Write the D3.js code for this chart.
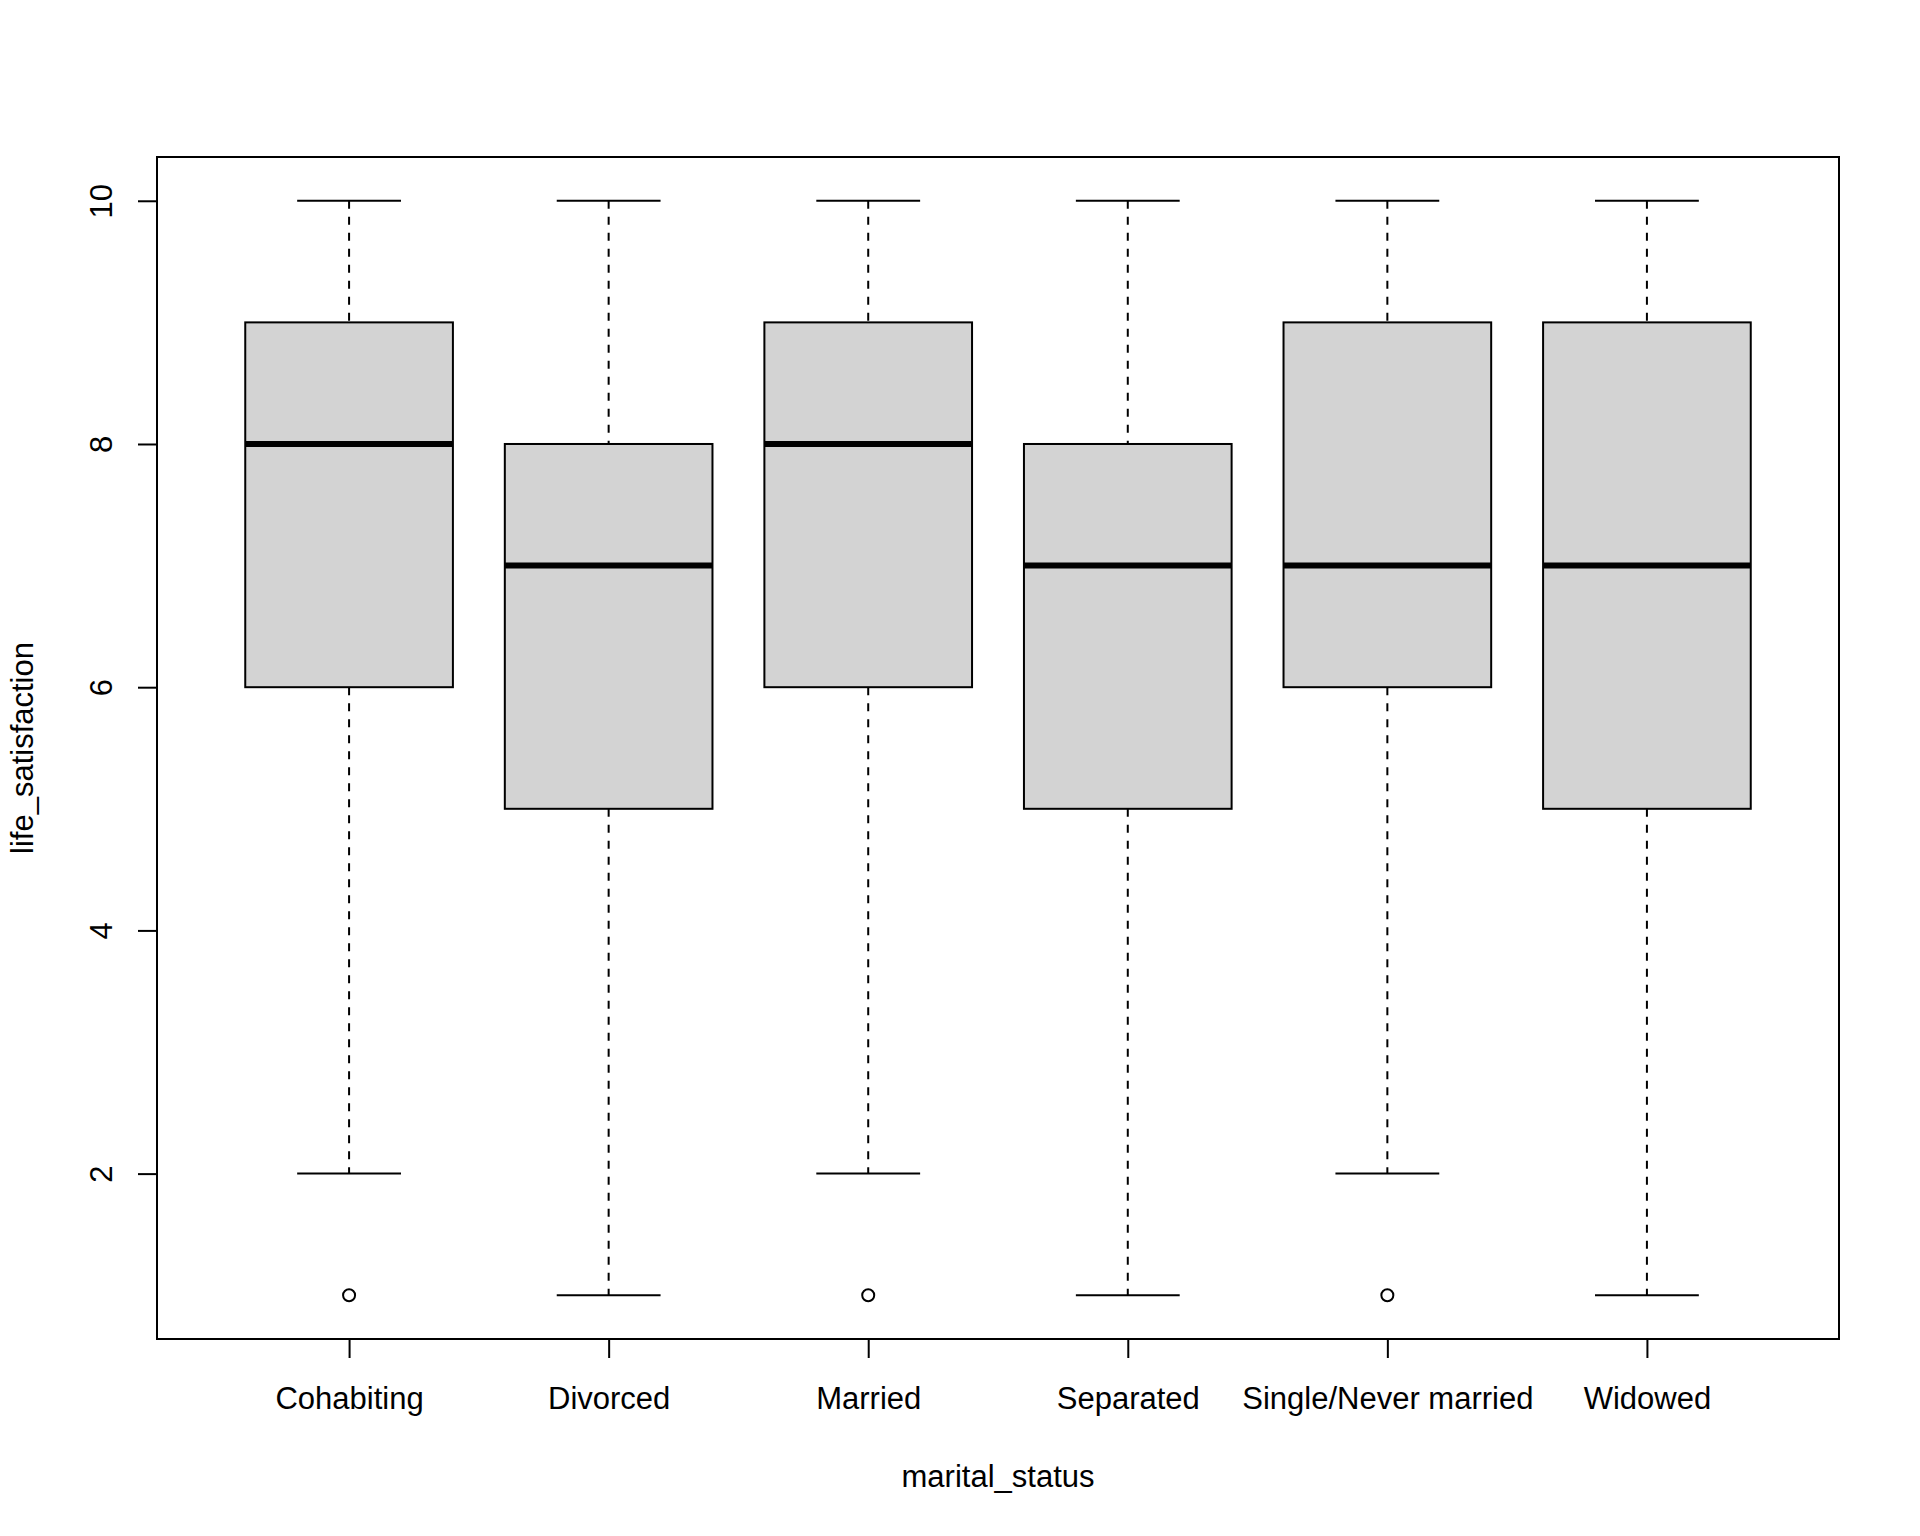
<!DOCTYPE html>
<html>
<head>
<meta charset="utf-8">
<script src="https://cdn.jsdelivr.net/npm/d3@7"></script>
<style>
  body { margin: 0; background: #fff; }
  text { font-family: "Liberation Sans", Arial, sans-serif; fill: #000; }
</style>
</head>
<body>
<div class="container"></div>
<script>
// boxplot stats
var categories = ['Cohabiting', 'Divorced', 'Married', 'Separated', 'Single/Never married', 'Widowed'];
var lowWhisker = [2, 1, 2, 1, 2, 1];
var q1 = [6, 5, 6, 5, 6, 5];
var median = [8, 7, 8, 7, 7, 7];
var q3 = [9, 8, 9, 8, 9, 9];
var highWhisker = [10, 10, 10, 10, 10, 10];
var outliers = [[1], [], [1], [], [1], []];
var yTicks = [2, 4, 6, 8, 10];

var W = 1920, H = 1536;
// plot region (window.top is reserved, so prefix the names)
var pLeft = 157, pRight = 1839, pTop = 157, pBottom = 1339;
var fs = 31;

var svg = d3.select('.container')
    .append('svg')
        .attr('width', W)
        .attr('height', H);

// R pads axes 4% past the data range
var x = d3.scaleLinear().domain([0.26, 6.74]).range([pLeft, pRight]);
var y = d3.scaleLinear().domain([0.64, 10.36]).range([pBottom, pTop]);

var rows = categories.map(function(c, i) {
    return {i: i + 1, name: c, lo: lowWhisker[i], q1: q1[i], med: median[i],
            q3: q3[i], hi: highWhisker[i], out: outliers[i]};
});

var g = svg.append('g');
var box = g.selectAll('g.box').data(rows).enter().append('g').attr('class', 'box');

// dashed whiskers
box.append('line')
    .attr('x1', function(d) { return x(d.i); })
    .attr('x2', function(d) { return x(d.i); })
    .attr('y1', function(d) { return y(d.hi); })
    .attr('y2', function(d) { return y(d.q3); })
    .style('stroke', '#000').style('stroke-width', 2).style('stroke-dasharray', '8,8');
box.append('line')
    .attr('x1', function(d) { return x(d.i); })
    .attr('x2', function(d) { return x(d.i); })
    .attr('y1', function(d) { return y(d.q1); })
    .attr('y2', function(d) { return y(d.lo); })
    .style('stroke', '#000').style('stroke-width', 2).style('stroke-dasharray', '8,8');

// staples
['hi', 'lo'].forEach(function(k) {
    box.append('line')
        .attr('x1', function(d) { return x(d.i - 0.2); })
        .attr('x2', function(d) { return x(d.i + 0.2); })
        .attr('y1', function(d) { return y(d[k]); })
        .attr('y2', function(d) { return y(d[k]); })
        .style('stroke', '#000').style('stroke-width', 2);
});

box.append('rect')
    .attr('x', function(d) { return x(d.i - 0.4); })
    .attr('width', function(d) { return x(d.i + 0.4) - x(d.i - 0.4); })
    .attr('y', function(d) { return y(d.q3); })
    .attr('height', function(d) { return y(d.q1) - y(d.q3); })
    .style('fill', '#d3d3d3').style('stroke', '#000').style('stroke-width', 2);

box.append('line')
    .attr('x1', function(d) { return x(d.i - 0.4); })
    .attr('x2', function(d) { return x(d.i + 0.4); })
    .attr('y1', function(d) { return y(d.med); })
    .attr('y2', function(d) { return y(d.med); })
    .style('stroke', '#000').style('stroke-width', 6);

box.selectAll('circle')
    .data(function(d) { return d.out.map(function(v) { return {i: d.i, v: v}; }); })
    .enter().append('circle')
        .attr('cx', function(d) { return x(d.i); })
        .attr('cy', function(d) { return y(d.v); })
        .attr('r', 6)
        .style('fill', 'none').style('stroke', '#000').style('stroke-width', 2);

// plot frame
svg.append('rect')
    .attr('x', pLeft).attr('y', pTop)
    .attr('width', pRight - pLeft).attr('height', pBottom - pTop)
    .style('fill', 'none').style('stroke', '#000').style('stroke-width', 2);

// x axis
var xAxis = svg.append('g')
    .attr('transform', 'translate(0,' + pBottom + ')')
    .call(d3.axisBottom(x)
        .tickValues(d3.range(1, categories.length + 1))
        .tickFormat(function(d) { return categories[d - 1]; })
        .tickSize(19).tickSizeOuter(0));
xAxis.select('.domain').remove();
xAxis.selectAll('line').style('stroke', '#000').style('stroke-width', 2);
xAxis.selectAll('text')
    .attr('y', 70).attr('dy', null)
    .style('font-size', fs + 'px').style('font-family', '"Liberation Sans", Arial, sans-serif');

// y axis
var yAxis = svg.append('g')
    .attr('transform', 'translate(' + pLeft + ',0)')
    .call(d3.axisLeft(y).tickValues(yTicks).tickSize(19).tickSizeOuter(0));
yAxis.select('.domain').remove();
yAxis.selectAll('line').style('stroke', '#000').style('stroke-width', 2);
yAxis.selectAll('text')
    .attr('x', null).attr('dy', null)
    .attr('text-anchor', 'middle')
    .attr('transform', 'translate(-45,0) rotate(-90)')
    .style('font-size', fs + 'px').style('font-family', '"Liberation Sans", Arial, sans-serif');

// axis titles
svg.append('text')
    .attr('x', (pLeft + pRight) / 2).attr('y', 1487)
    .attr('text-anchor', 'middle')
    .style('font-size', fs + 'px')
    .text('marital_status');

svg.append('text')
    .attr('transform', 'translate(33,' + (pTop + pBottom) / 2 + ') rotate(-90)')
    .attr('text-anchor', 'middle')
    .style('font-size', fs + 'px')
    .text('life_satisfaction');
</script>
</body>
</html>
